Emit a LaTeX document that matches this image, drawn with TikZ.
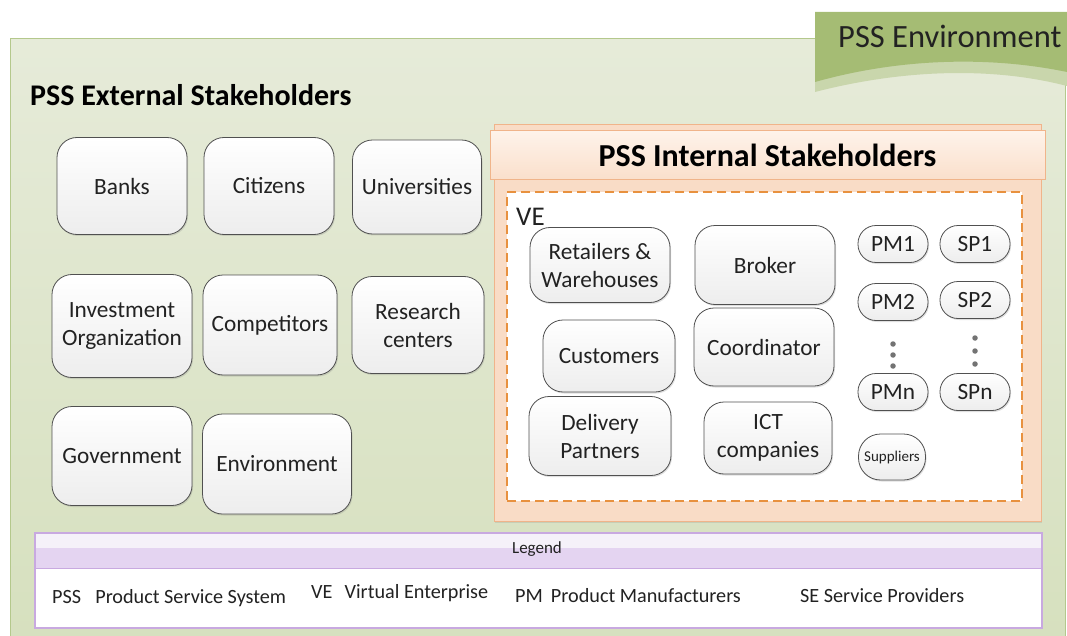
\documentclass[tikz,border=0pt]{standalone}
\usepackage{fontspec}
\setmainfont{Carlito}
\usetikzlibrary{shadows}
\definecolor{bgtop}{HTML}{E6EBD9}
\definecolor{bgbot}{HTML}{D6E0BE}
\definecolor{bgline}{HTML}{B4C88C}
\definecolor{tabgreen}{HTML}{A5BC74}
\definecolor{tablight}{HTML}{C9D6AC}
\definecolor{peach}{HTML}{F9DCC6}
\definecolor{peachline}{HTML}{F0B48A}
\definecolor{headtop}{HTML}{FEF3EA}
\definecolor{headbot}{HTML}{FADFCB}
\definecolor{dashor}{HTML}{E8913F}
\definecolor{lgline}{HTML}{C8A9E0}
\definecolor{lgpurple}{HTML}{E4D4F1}
\definecolor{lglight}{HTML}{F5F1F9}
\definecolor{nodeline}{HTML}{505050}
\definecolor{txt}{HTML}{222222}
\tikzset{
  stake/.style={draw=nodeline, line width=0.8pt, rounded corners=20pt,
    top color=white, bottom color=black!7, align=center, inner sep=0pt,
    text=txt, font=\fontsize{23.3}{28}\selectfont,
    drop shadow={opacity=0.25, shadow xshift=1pt, shadow yshift=-1.5pt}},
  pill/.style={stake, rounded corners=18pt, minimum width=70pt, minimum height=37pt},
  vdot/.style={circle, fill=black!55, inner sep=0pt, minimum size=5.5pt},
  lgtext/.style={anchor=west, inner sep=0pt, text=txt, font=\fontsize{20.2}{24}\selectfont},
}
\begin{document}
\begin{tikzpicture}[x=1pt,y=-1pt]
\useasboundingbox (0,0) rectangle (1067,636);
% environment background
\node[draw=bgline, line width=1pt, top color=bgtop, bottom color=bgbot, inner sep=0pt,
  minimum width=1055pt, minimum height=610pt, anchor=north west] (env) at (10,38) {};
% tab
\fill[tablight] (815,30) -- (1067,30) -- (1067,86) .. controls (990,66) and (900,70) .. (815,92) -- cycle;
\fill[tabgreen] (815,12) -- (1067,12) -- (1067,72) .. controls (990,56) and (900,58) .. (815,82) -- cycle;
\node[anchor=west, inner sep=0pt, text=txt, font=\fontsize{32.5}{38}\selectfont] (envtitle) at (838,36) {PSS Environment};
\node[anchor=west, inner sep=0pt, text=black, font=\bfseries\fontsize{30}{35}\selectfont] (exttitle) at (30,95) {PSS External Stakeholders};

% external stakeholders
\node[stake, minimum width=130pt, minimum height=97pt] (banks) at (122,186) {Banks};
\node[stake, minimum width=130pt, minimum height=97pt] (citizens) at (269,186) {Citizens};
\node[stake, minimum width=129pt, minimum height=94pt] (univ) at (417,187) {Universities};
\node[stake, minimum width=140pt, minimum height=103pt] (invest) at (122,326) {Investment\\Organization};
\node[stake, minimum width=134pt, minimum height=100pt] (compet) at (270,325) {Competitors};
\node[stake, minimum width=132pt, minimum height=97pt] (research) at (418,325) {Research\\centers};
\node[stake, minimum width=140pt, minimum height=99pt] (gov) at (122,456) {Government};
\node[stake, minimum width=149pt, minimum height=100pt] (envir) at (277,464) {Environment};

% internal stakeholders
\node[draw=peachline, line width=1pt, fill=peach, inner sep=0pt, minimum width=547pt, minimum height=396pt,
  drop shadow={opacity=0.2, shadow xshift=1pt, shadow yshift=-1.5pt}] (internal) at (767.5,323) {};
\node[draw=peachline, line width=1pt, top color=headtop, bottom color=headbot, inner sep=0pt,
  minimum width=555pt, minimum height=49pt, text=black, font=\bfseries\fontsize{32}{37}\selectfont] (inthead) at (767.5,155.5) {PSS Internal Stakeholders};
\node[draw=dashor, line width=1.2pt, dash pattern=on 9pt off 5pt, fill=white, inner sep=0pt,
  minimum width=515pt, minimum height=309pt] (ve) at (764.5,346.5) {};
\node[anchor=west, inner sep=0pt, text=txt, font=\fontsize{27}{32}\selectfont] (velabel) at (516,217) {VE};

\node[stake, minimum width=140pt, minimum height=75pt] (retail) at (600,265) {Retailers \&\\Warehouses};
\node[stake, minimum width=140pt, minimum height=79pt] (broker) at (765,265) {Broker};
\node[stake, minimum width=132pt, minimum height=72pt] (cust) at (609,356) {Customers};
\node[stake, minimum width=140pt, minimum height=78pt] (coord) at (764,347) {Coordinator};
\node[stake, minimum width=142pt, minimum height=79pt] (deliv) at (600,436) {Delivery\\Partners};
\node[stake, minimum width=128pt, minimum height=72pt] (ict) at (768,438) {ICT\\companies};

\node[pill] (pm1) at (893,244) {PM1};
\node[pill] (sp1) at (975,244) {SP1};
\node[pill] (pm2) at (893,302) {PM2};
\node[pill] (sp2) at (975,300) {SP2};
\node[pill] (pmn) at (893,392) {PMn};
\node[pill] (spn) at (975,392) {SPn};
\node[stake, rounded corners=22pt, minimum width=67pt, minimum height=46pt, font=\fontsize{15}{18}\selectfont] (supp) at (892,457) {Suppliers};
\node[vdot] (pd1) at (893,344) {};
\node[vdot] (pd2) at (893,355) {};
\node[vdot] (pd3) at (893,366) {};
\node[vdot] (sd1) at (975,338) {};
\node[vdot] (sd2) at (975,351) {};
\node[vdot] (sd3) at (975,364) {};

% legend
\fill[lglight] (35,533) rectangle (1042,548);
\fill[lgpurple] (35,548) rectangle (1042,568);
\fill[white] (35,568) rectangle (1042,628);
\draw[lgline, line width=0.8pt] (35,568) -- (1042,568);
\node[draw=lgline, line width=1.5pt, inner sep=0pt, minimum width=1007pt, minimum height=95pt] (legend) at (538.5,580.5) {};
\node[inner sep=0pt, text=txt, font=\fontsize{17}{20}\selectfont] (legtitle) at (537,549) {Legend};
\node[lgtext] (l1) at (52,598) {PSS\hspace{0.7em}Product Service System};
\node[lgtext] (l2) at (311,593) {VE\hspace{0.6em}Virtual Enterprise};
\node[lgtext] (l3) at (515,596) {PM\hspace{0.4em}Product Manufacturers};
\node[lgtext] (l4) at (800,596) {SE Service Providers};
\end{tikzpicture}
\end{document}
